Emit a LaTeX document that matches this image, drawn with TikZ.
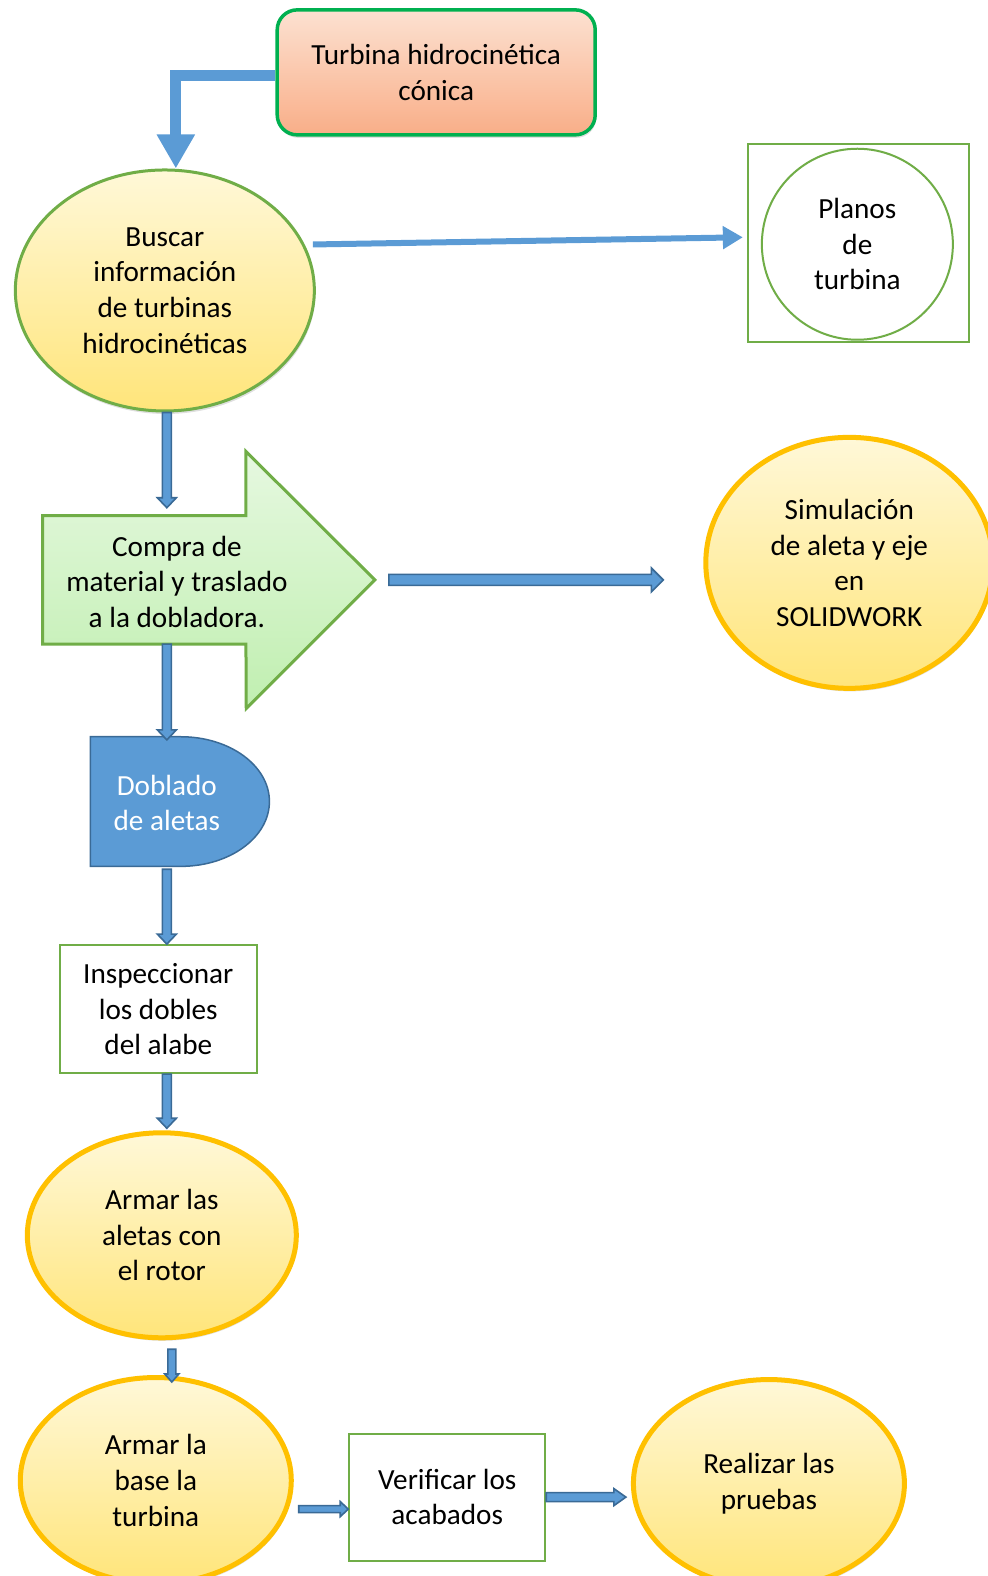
\documentclass[tikz,border=0pt]{standalone}
\usepackage{fontspec}
\setmainfont{Carlito}
\usetikzlibrary{shapes.geometric,arrows.meta,calc,shadows}
\definecolor{bblue}{HTML}{5B9BD5}
\definecolor{bdark}{HTML}{3A6A96}
\definecolor{ggreen}{HTML}{70AD47}
\definecolor{kgreen}{HTML}{00B050}
\definecolor{gold}{HTML}{FFC000}
\definecolor{ytop}{HTML}{FFF8D8}
\definecolor{ybot}{HTML}{FFE57A}
\definecolor{stop}{HTML}{FCE1D1}
\definecolor{sbot}{HTML}{F9AE88}
\definecolor{gtop}{HTML}{E6F8E0}
\definecolor{gbot}{HTML}{C0EFB0}
\begin{document}
\begin{tikzpicture}[x=1.0051pt,y=-1.0051pt,
  every node/.style={font=\fontsize{29.2}{35.6}\selectfont, align=center, inner sep=0pt},
  shad/.style={drop shadow={shadow xshift=1pt, shadow yshift=-3pt, opacity=0.25}},
  yell/.style={ellipse, top color=ytop, bottom color=ybot, shad},
  gbox/.style={rectangle, draw=ggreen, line width=2pt, fill=white},
  barrow/.style n args={3}{draw=bdark, fill=bblue, line width=1.6pt, line join=miter,
    to path={let \p1=(\tikztostart), \p2=(\tikztotarget),
      \n1={atan2(\y2-\y1,\x2-\x1)}, \n2={veclen(\x2-\x1,\y2-\y1)-#3}, \n3={\n1+90} in
      ($(\p1)+(\n3:#1pt)$) -- ($(\p1)+(\n1:\n2)+(\n3:#1pt)$) -- ($(\p1)+(\n1:\n2)+(\n3:#2pt)$)
      -- (\p2) -- ($(\p1)+(\n1:\n2)+(\n3:-#2pt)$) -- ($(\p1)+(\n1:\n2)+(\n3:-#1pt)$)
      -- ($(\p1)+(\n3:-#1pt)$) -- cycle}},
  fatarrow/.style={bblue, line width=11pt, -{Triangle[width=36pt,length=34pt]}}
]
\useasboundingbox (0,0) rectangle (982,1568);

% nodes
\node (top) [rectangle, rounded corners=20pt, draw=kgreen, line width=3.5pt,
  top color=stop, bottom color=sbot, shad, minimum width=318, minimum height=125]
  at (434,72) {Turbina hidrocinética\\cónica};

\node (busc) [yell, draw=ggreen, line width=3pt, minimum width=299, minimum height=241]
  at (164,289) {Buscar\\información\\de turbinas\\hidrocinéticas};

\node (plbox) [gbox, minimum width=221, minimum height=198] at (854,242) {};
\node (plc) [circle, draw=ggreen, line width=2pt, minimum size=191] at (853,243) {Planos\\de\\turbina};

% compra arrow shape
\node (cbody) [minimum width=203, minimum height=128] at (143.5,577) {};
\coordinate (ctip) at (373,577);
\path[draw=ggreen, line width=3pt, top color=gtop, bottom color=gbot, line join=miter]
  (cbody.north west) -- (cbody.north east) -- ++(0,-64) -- (ctip) -- (245,705)
  -- (cbody.south east) -- (cbody.south west) -- cycle;
\node (compra) at (176,579) {Compra de\\material y traslado\\a la dobladora.};

\node (sim) [yell, draw=gold, line width=5pt, minimum width=287, minimum height=251]
  at (845,560) {Simulación\\de aleta y eje\\en\\SOLIDWORK};

% doblado (delay shape)
\draw[fill=bblue, draw=bdark, line width=1.5pt] (90,733) -- (180,733)
  arc[start angle=90, end angle=-90, x radius=88.5pt, y radius=64.8pt] -- (90,862) -- cycle;
\node (dob) [text=white, minimum height=129] at (166,799) {Doblado\\de aletas};

\node (insp) [gbox, minimum width=197, minimum height=128] at (157.5,1004) {Inspeccionar\\los dobles\\del alabe};

\node (arm1) [yell, draw=gold, line width=5pt, minimum width=269, minimum height=205]
  at (161,1229) {Armar las\\aletas con\\el rotor};

\node (arm2) [yell, draw=gold, line width=5pt, minimum width=271, minimum height=206]
  at (155,1473) {Armar la\\base la\\turbina};

\node (verif) [gbox, minimum width=196, minimum height=127] at (445,1489.5) {Verificar los\\acabados};

\node (real) [yell, draw=gold, line width=5pt, minimum width=271, minimum height=208]
  at (765,1476) {Realizar las\\pruebas};

% connectors
\draw[fatarrow] ([yshift=-3pt]top.west) -| ([xshift=11pt]busc.north);
\draw[bblue, line width=6pt, -{Triangle[width=22pt,length=20pt]}, shorten >=4pt]
  ([xshift=-3pt,yshift=46pt]busc.east) -- ([yshift=6pt]plbox.west);
\draw[barrow={4.5}{9.5}{10}] (busc.south -| dob.north) to ([yshift=8pt]dob.north |- cbody.north);
\draw[barrow={5.5}{12}{12}] ([xshift=14pt]ctip) to ([xshift=-40pt]sim.west |- ctip);
\draw[barrow={4.5}{9.5}{10}] (dob.north |- cbody.south) to ([yshift=-1.5pt]dob.north);
\draw[barrow={4.5}{9.5}{10}] ([yshift=-1.5pt]dob.south) to (dob.south |- insp.north);
\draw[barrow={4.5}{9.5}{10}] (dob.south |- insp.south) to ([yshift=2pt]dob.south |- arm1.north);
\draw[barrow={4}{7}{8}] ([xshift=10pt,yshift=-9pt]arm1.south) to ([xshift=16pt,yshift=-7pt]arm2.north);
\draw[barrow={3.5}{7.5}{8}] ($(arm2.east |- verif.west)+(5pt,-12pt)$) to ([yshift=-12pt]verif.west);
\draw[barrow={4.5}{8.5}{12}] (verif.east) to ([xshift=-5pt]real.west |- verif.east);
\end{tikzpicture}
\end{document}
